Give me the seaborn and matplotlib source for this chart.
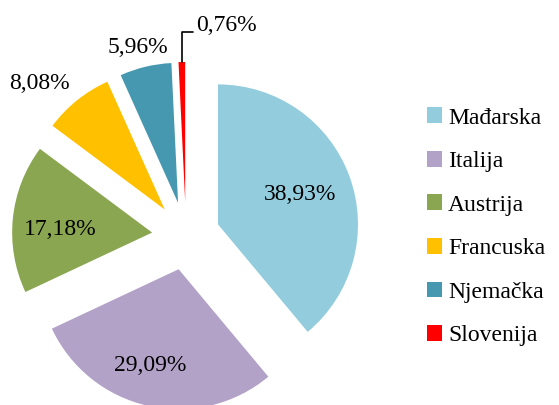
import numpy as np
import seaborn as sns
import matplotlib
matplotlib.use("Agg")
import matplotlib.pyplot as plt
from matplotlib.patches import Patch

# export share by country (%)
countries = ["Mađarska", "Italija", "Austrija", "Francuska", "Njemačka", "Slovenija"]
shares = [38.93, 29.09, 17.18, 8.08, 5.96, 0.76]
colors = ["#93CDDD", "#B3A2C7", "#8BA650", "#FFC000", "#4598AF", "#FF0000"]

# label placement per slice: distance from the (exploded) centre and angle shift
label_dist = [0.62, 0.72, 0.66, 1.27, 1.15, None]
label_shift = [0, -4, 4, 6, 1, 0]

sns.set_theme(style="white")
plt.rcParams["font.family"] = ["Liberation Serif", "DejaVu Serif"]
plt.rcParams["text.color"] = "black"
FS = 17

fig = plt.figure(figsize=(5.59, 4.05), dpi=100)
ax = fig.add_axes([0, 0, 1, 1])

wedges, _ = ax.pie(
    shares,
    colors=colors,
    startangle=90,
    counterclock=False,
    explode=[0.243] * len(shares),
    wedgeprops=dict(linewidth=0),
)

# pie centre sits left of the middle, bottom slice is cut off
ax.set_xlim(-186 / 140, (559 - 186) / 140)
ax.set_ylim(-(405 - 236) / 140, 236 / 140)
ax.set_aspect("auto")
ax.axis("off")

for w, v, dist, shift in zip(wedges, shares, label_dist, label_shift):
    txt = f"{v:.2f}%".replace(".", ",")
    cx, cy = w.center
    mid = np.deg2rad((w.theta1 + w.theta2) / 2 + shift)
    if dist is None:
        # tiny slice: label with a leader line from the tip
        tx = cx + w.r * np.cos(mid)
        ty = cy + w.r * np.sin(mid)
        ax.plot([tx, tx, tx + 0.08], [ty, ty + 0.214, ty + 0.214], color="black", lw=1.2)
        ax.text(tx + 0.105, ty + 0.264, txt, ha="left", va="center", fontsize=FS, color="black")
    else:
        ax.text(cx + dist * np.cos(mid), cy + dist * np.sin(mid), txt,
                ha="center", va="center", fontsize=FS, color="black")

handles = [Patch(facecolor=c, edgecolor="none") for c in colors]
fig.legend(
    handles, countries,
    loc="center left", bbox_to_anchor=(0.764, 0.44),
    frameon=False, fontsize=FS, labelcolor="black",
    handlelength=0.64, handleheight=0.64, handletextpad=0.25,
    labelspacing=0.95, borderpad=0, borderaxespad=0,
)

fig.savefig("out.png", dpi=100)
